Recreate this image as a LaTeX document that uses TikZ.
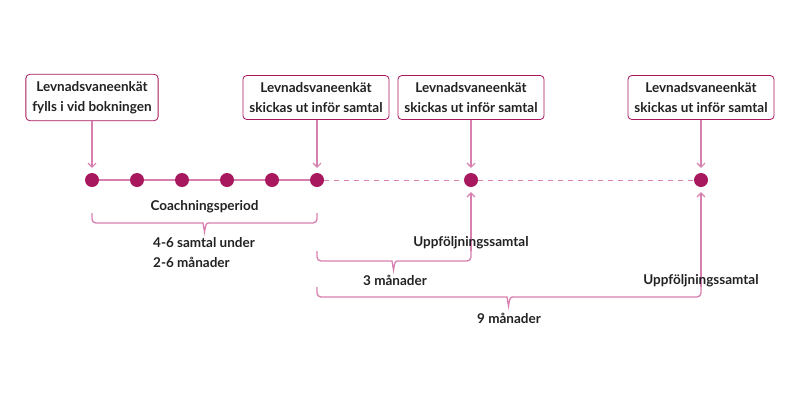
\documentclass[tikz,border=0pt]{standalone}
\usepackage{fontspec}
\setmainfont{Lato}
\usetikzlibrary{arrows.meta}
\definecolor{dotc}{HTML}{A8185E}
\definecolor{linec}{HTML}{D77FAE}
\definecolor{txt}{HTML}{222222}
\tikzset{
  box/.style={draw=dotc, line width=0.8pt, rounded corners=4pt, fill=white, align=center, inner xsep=6.5pt, inner ysep=7pt, font=\fontsize{13.5}{20}\selectfont\bfseries, text=txt},
  dot/.style={circle, fill=dotc, minimum size=14pt, inner sep=0pt},
  lbl/.style={font=\fontsize{13.5}{20}\selectfont\bfseries, text=txt, inner sep=0pt},
  conn/.style={draw=linec, line width=1.1pt},
  arr/.style={conn, -{Straight Barb[length=4pt,width=8pt]}},
  brc/.style={conn, line width=1.3pt, rounded corners=4pt},
}
\begin{document}
\begin{tikzpicture}[x=1pt,y=-1pt]
\useasboundingbox (0,0) rectangle (800,400);
% boxes
\node[box] (b1) at (92,97.5) {Levnadsvaneenkät\\fylls i vid bokningen};
\node[box] (b2) at (316,97.5) {Levnadsvaneenkät\\skickas ut inför samtal};
\node[box] (b3) at (471,97.5) {Levnadsvaneenkät\\skickas ut inför samtal};
\node[box] (b4) at (701,97.5) {Levnadsvaneenkät\\skickas ut inför samtal};
% timeline
\node[dot] (d1) at (92,180) {};
\node[dot] (d2) at (137,180) {};
\node[dot] (d3) at (182,180) {};
\node[dot] (d4) at (227,180) {};
\node[dot] (d5) at (272,180) {};
\node[dot] (d6) at (317,180) {};
\node[dot] (d7) at (471,180) {};
\node[dot] (d8) at (701,180) {};
\draw[conn] (d1) -- (d2) (d2) -- (d3) (d3) -- (d4) (d4) -- (d5) (d5) -- (d6);
\draw[conn, line width=0.9pt, dash pattern=on 5pt off 5pt] (d6) -- (d7) (d7) -- (d8);
% down arrows
\draw[arr] (b1.south) -- ([yshift=5pt]d1.north);
\draw[arr] (b2.south -| d6) -- ([yshift=5pt]d6.north);
\draw[arr] (b3.south) -- ([yshift=5pt]d7.north);
\draw[arr] (b4.south) -- ([yshift=5pt]d8.north);
% braces
\coordinate (c1a) at (92,213); \coordinate (c1b) at (317,213);
\draw[brc] (c1a) -- (92,223) -- (199,223) [sharp corners] .. controls (203,223) .. (204.5,232) .. controls (206,223) .. (210,223) [rounded corners=4pt] -- (317,223) -- (c1b);
\coordinate (c2a) at (317,251); \coordinate (c2b) at (471,251);
\draw[brc] (c2a) -- (317,261) -- (388,261) [sharp corners] .. controls (392,261) .. (393.5,270) .. controls (395,261) .. (399,261) [rounded corners=4pt] -- (471,261) -- (c2b);
\coordinate (c3a) at (317,287); \coordinate (c3b) at (701,287);
\draw[brc] (c3a) -- (317,297) -- (503,297) [sharp corners] .. controls (507,297) .. (508.5,306) .. controls (510,297) .. (514,297) [rounded corners=4pt] -- (701,297) -- (c3b);
% up arrows
\draw[arr] (c2b) -- ([yshift=-5pt]d7.south);
\draw[arr] (c3b) -- ([yshift=-5pt]d8.south);
% labels
\node[lbl] (l1) at (204.5,207) {Coachningsperiod};
\node[lbl, align=left, anchor=west] (l2) at (153,252.5) {4-6 samtal under\\2-6 månader};
\node[lbl] (l3) at (395,280) {3 månader};
\node[lbl] (l4) at (471,243) {Uppföljningssamtal};
\node[lbl] (l5) at (701,281) {Uppföljningssamtal};
\node[lbl] (l6) at (509,318) {9 månader};
\end{tikzpicture}
\end{document}
